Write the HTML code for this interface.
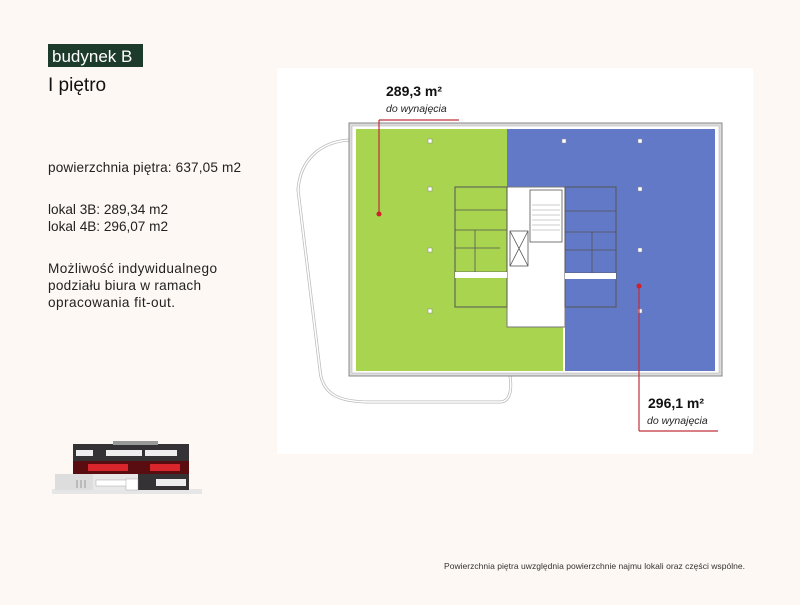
<!DOCTYPE html>
<html><head><meta charset="utf-8"><style>
body{margin:0;width:800px;height:600px;background:#fdf8f3;overflow:hidden;font-family:"Liberation Sans",sans-serif;}
</style></head><body>
<svg width="800" height="600" xmlns="http://www.w3.org/2000/svg" font-family="Liberation Sans, sans-serif">
<rect width="800" height="600" fill="#fdf8f3"/>
<rect x="48" y="44" width="95" height="23" fill="#1d3b2b"/>
<text x="52" y="62" font-size="17" fill="#fff">budynek B</text>
<text x="48" y="91" font-size="19" fill="#111">I piętro</text>
<g font-size="13.6" fill="#222">
<text x="48" y="172" textLength="193">powierzchnia piętra: 637,05 m2</text>
<text x="48" y="214" textLength="120">lokal 3B: 289,34 m2</text>
<text x="48" y="231" textLength="120">lokal 4B: 296,07 m2</text>
<text x="48" y="273" textLength="169">Możliwość indywidualnego</text>
<text x="48" y="290" textLength="153">podziału biura w ramach</text>
<text x="48" y="307" textLength="127">opracowania fit-out.</text>
</g>
<text x="444" y="569" font-size="8.5" fill="#333" textLength="301">Powierzchnia piętra uwzględnia powierzchnie najmu lokali oraz części wspólne.</text>
<rect x="277" y="68" width="476" height="386" fill="#fff"/>
<path d="M349 140 C320 142 300 160 298 190 L320 370 C322 395 340 402 370 402 L500 402 C510 402 512 390 510 376" fill="none" stroke="#bbb" stroke-width="3"/>
<path d="M349 140 C320 142 300 160 298 190 L320 370 C322 395 340 402 370 402 L500 402 C510 402 512 390 510 376" fill="none" stroke="#fff" stroke-width="1.5"/>
<rect x="349" y="123" width="373" height="253" fill="#ddd" stroke="#888" stroke-width="1"/>
<rect x="352" y="126" width="367" height="247" fill="#fff" stroke="#aaa" stroke-width="0.5"/>
<polygon points="356,129 507,129 507,327 563,327 563,371 356,371" fill="#a8d44f"/>
<polygon points="507,129 715,129 715,371 565,371 565,307 507,307" fill="#6279c8"/>
<rect x="507" y="187" width="58" height="140" fill="#fff" stroke="#777" stroke-width="1"/>
<rect x="455" y="187" width="52" height="120" fill="#a8d44f" stroke="#555" stroke-width="1"/>
<rect x="565" y="187" width="51" height="120" fill="#6279c8" stroke="#555" stroke-width="1"/>
<g stroke="#555" stroke-width="0.8" fill="none">
<line x1="455" y1="210" x2="507" y2="210"/><line x1="455" y1="230" x2="507" y2="230"/><line x1="455" y1="248" x2="500" y2="248"/><line x1="455" y1="272" x2="507" y2="272"/><line x1="475" y1="230" x2="475" y2="272"/>
<line x1="565" y1="211" x2="616" y2="211"/><line x1="565" y1="232" x2="616" y2="232"/><line x1="565" y1="250" x2="616" y2="250"/><line x1="565" y1="273" x2="616" y2="273"/><line x1="592" y1="232" x2="592" y2="273"/>
<rect x="510" y="231" width="18" height="35"/><line x1="510" y1="231" x2="528" y2="266"/><line x1="528" y1="231" x2="510" y2="266"/>
<rect x="530" y="190" width="32" height="52"/>
</g>
<g stroke="#999" stroke-width="0.5"><line x1="532" y1="205" x2="560" y2="205"/><line x1="532" y1="210" x2="560" y2="210"/><line x1="532" y1="215" x2="560" y2="215"/><line x1="532" y1="220" x2="560" y2="220"/><line x1="532" y1="225" x2="560" y2="225"/><line x1="532" y1="230" x2="560" y2="230"/></g>
<rect x="455" y="272" width="52" height="6" fill="#fff"/><rect x="565" y="273" width="51" height="6" fill="#fff"/>
<g fill="#fff" stroke="#888" stroke-width="0.5">
<rect x="428" y="139" width="4" height="4"/><rect x="428" y="187" width="4" height="4"/><rect x="428" y="248" width="4" height="4"/><rect x="428" y="309" width="4" height="4"/>
<rect x="562" y="139" width="4" height="4"/><rect x="638" y="139" width="4" height="4"/><rect x="638" y="187" width="4" height="4"/><rect x="638" y="248" width="4" height="4"/><rect x="638" y="309" width="4" height="4"/>
</g>
<line x1="379" y1="120" x2="459" y2="120" stroke="#c0303a" stroke-width="1.2"/>
<line x1="379" y1="120" x2="379" y2="214" stroke="#c0303a" stroke-width="1.2"/>
<circle cx="379" cy="214" r="2.5" fill="#d0202a"/>
<text x="386" y="96" font-size="14" font-weight="bold" fill="#111">289,3 m²</text>
<text x="386" y="112" font-size="10.5" font-style="italic" fill="#222">do wynajęcia</text>
<line x1="639" y1="286" x2="639" y2="431" stroke="#c0303a" stroke-width="1.2"/>
<line x1="639" y1="431" x2="718" y2="431" stroke="#c0303a" stroke-width="1.2"/>
<circle cx="639" cy="286" r="2.5" fill="#d0202a"/>
<text x="648" y="408" font-size="14" font-weight="bold" fill="#111">296,1 m²</text>
<text x="647" y="424" font-size="10.5" font-style="italic" fill="#222">do wynajęcia</text>
<rect x="52" y="489" width="150" height="5" fill="#e6e6e6"/>
<rect x="73" y="444" width="116" height="46" fill="#343234"/>
<rect x="113" y="441" width="45" height="4" fill="#999"/>
<rect x="73" y="461" width="116" height="13" fill="#5a0d10"/>
<g fill="#d8262c"><rect x="88" y="464" width="40" height="7"/><rect x="150" y="464" width="30" height="7"/></g>
<g fill="#eee"><rect x="76" y="450" width="17" height="6"/><rect x="106" y="450" width="36" height="6"/><rect x="145" y="450" width="32" height="6"/><rect x="156" y="479" width="30" height="7"/></g>
<rect x="55" y="474" width="38" height="16" fill="#ddd"/>
<rect x="93" y="474" width="45" height="16" fill="#e8e8e8"/>
<g fill="#bbb"><rect x="76" y="480" width="2" height="8"/><rect x="80" y="480" width="2" height="8"/><rect x="84" y="480" width="2" height="8"/></g>
<g fill="#fff" stroke="#999" stroke-width="0.4"><rect x="96" y="480" width="35" height="6"/><rect x="126" y="479" width="12" height="11"/></g>
</svg>
</body></html>
